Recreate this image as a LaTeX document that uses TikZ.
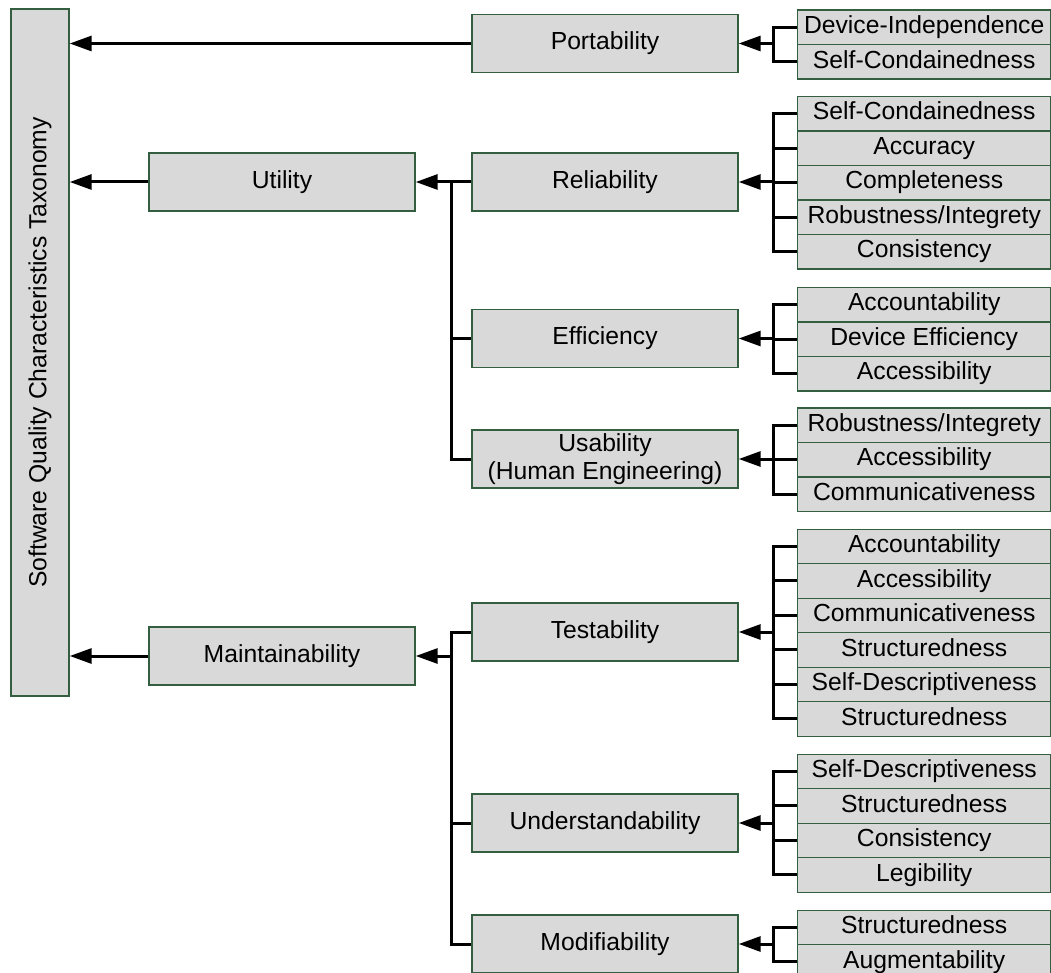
\documentclass[tikz,border=0pt]{standalone}
\usepackage{fontspec}
\setmainfont{Liberation Sans}
\usetikzlibrary{arrows.meta}
\definecolor{boxfill}{HTML}{D9D9D9}
\definecolor{boxline}{HTML}{345E40}

% stack of leaf boxes: name prefix, top edge, list of labels
\newcommand\leafstack[3]{%
  \foreach \t [count=\i] in {#3} {%
    \node[leaf] (#1\i) at (797, {#2+(\i-1)*34.5}) {\t};
  }%
}
% bracket joining leaves 1..n of a stack to the junction coordinate
\newcommand\leafbracket[3]{%
  \draw[link] (#11.west) -| (#2 |- #1#3.west) -- (#1#3.west);
  \foreach \i in {1,...,#3} { \draw[link] (#1\i.west) -- (#2 |- #1\i.west); }
}

\begin{document}
\begin{tikzpicture}[x=1pt,y=-1pt,
  txt/.style={font=\fontsize{24.7}{28.5}\selectfont},
  box/.style={txt, draw=boxline, fill=boxfill, line width=1.4pt,
    minimum width=266pt, minimum height=58pt, inner sep=0pt, align=center},
  leaf/.style={txt, draw=boxline, fill=boxfill, line width=1.4pt,
    minimum width=253pt, minimum height=34.5pt, inner sep=0pt,
    text height=17.5pt, text depth=5pt, anchor=north west},
  link/.style={line width=3pt, line join=miter},
  arr/.style={link, -{Triangle[length=22pt,width=15pt]}},
]
\clip (0,0) rectangle (1051,973);
\fill[white] (0,0) rectangle (1051,973);

% root
\node[box, minimum width=687pt, rotate=90] (tax) at (40,352.5)
  {Software Quality Characteristics Taxonomy};

% second level
\node[box] (util)  at (282,182) {Utility};
\node[box] (maint) at (282,656) {Maintainability};

% third level
\node[box] (port)  at (605,43.5) {Portability};
\node[box] (rel)   at (605,182)  {Reliability};
\node[box] (eff)   at (605,338.5) {Efficiency};
\node[box] (usab)  at (605,459)  {Usability\\(Human Engineering)};
\node[box] (test)  at (605,632)  {Testability};
\node[box] (und)   at (605,823)  {Understandability};
\node[box] (modi)  at (605,944)  {Modifiability};

% leaves
\leafstack{p}{9.5}{Device-Independence,Self-Condainedness}
\leafstack{r}{95.75}{Self-Condainedness,Accuracy,Completeness,Robustness/Integrety,Consistency}
\leafstack{e}{286.75}{Accountability,Device Efficiency,Accessibility}
\leafstack{u}{407.25}{Robustness/Integrety,Accessibility,Communicativeness}
\leafstack{t}{528.5}{Accountability,Accessibility,Communicativeness,Structuredness,Self-Descriptiveness,Structuredness}
\leafstack{d}{753.5}{Self-Descriptiveness,Structuredness,Consistency,Legibility}
\leafstack{m}{909.5}{Structuredness,Augmentability}

% junctions of the leaf brackets
\coordinate (pj) at (773,43.5);
\coordinate (rj) at (773,182);
\coordinate (ej) at (773,338.5);
\coordinate (uj) at (773,459);
\coordinate (tj) at (773,632);
\coordinate (dj) at (773,823);
\coordinate (mj) at (773,944);

\leafbracket{p}{pj}{2}
\leafbracket{r}{rj}{5}
\leafbracket{e}{ej}{3}
\leafbracket{u}{uj}{3}
\leafbracket{t}{tj}{6}
\leafbracket{d}{dj}{4}
\leafbracket{m}{mj}{2}

\draw[arr] (pj) -- (port.east);
\draw[arr] (rj) -- (rel.east);
\draw[arr] (ej) -- (eff.east);
\draw[arr] (uj) -- (usab.east);
\draw[arr] (tj) -- (test.east);
\draw[arr] (dj) -- (und.east);
\draw[arr] (mj) -- (modi.east);

% utility branch
\coordinate (uj2) at (451,182);
\draw[link] (uj2) |- (usab.west);
\draw[link] (uj2 |- eff.west) -- (eff.west);
\draw[arr] (rel.west) -- (util.east);

% maintainability branch
\coordinate (mj2) at (451,656);
\draw[link] (test.west) -| (mj2 |- modi.west) -- (modi.west);
\draw[link] (mj2 |- und.west) -- (und.west);
\draw[arr] (mj2) -- (maint.east);

% into the root
\draw[arr] (port.west)  -- (tax.south |- port.west);
\draw[arr] (util.west)  -- (tax.south |- util.west);
\draw[arr] (maint.west) -- (tax.south |- maint.west);
\end{tikzpicture}
\end{document}
